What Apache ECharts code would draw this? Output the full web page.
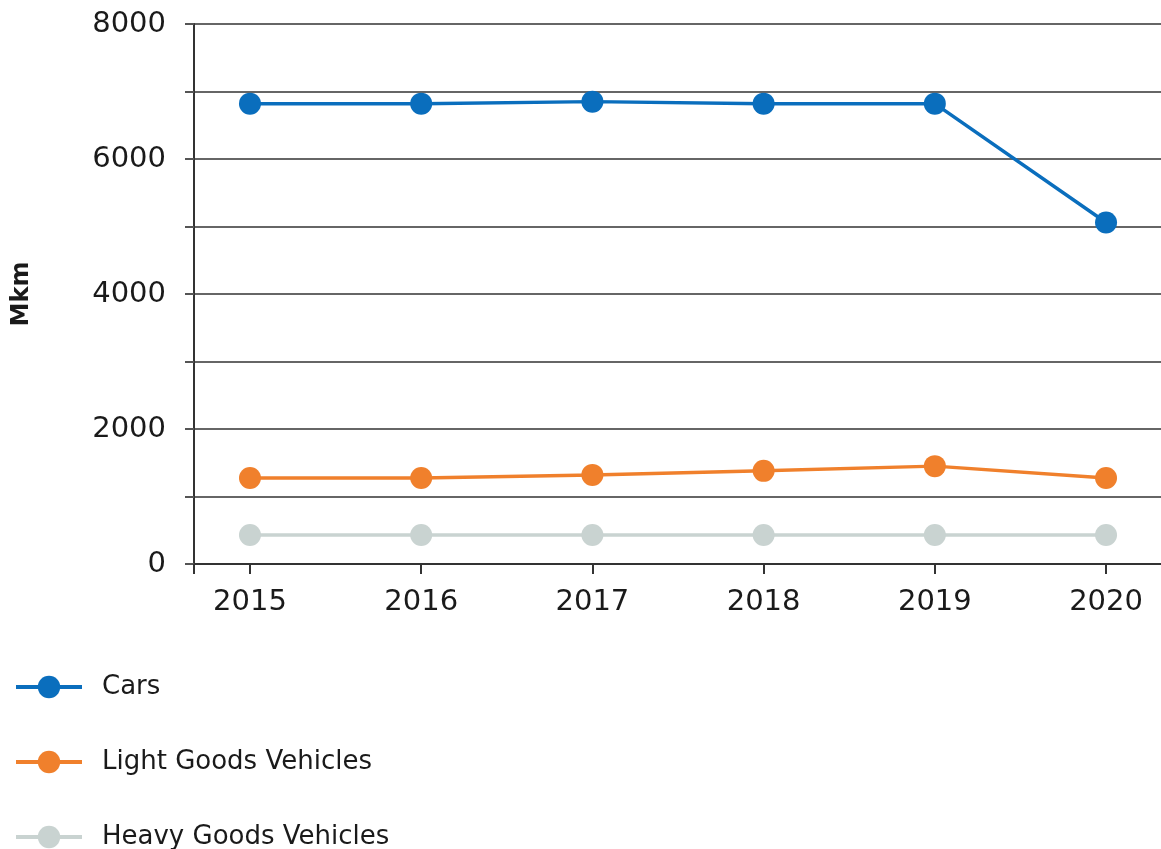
<!DOCTYPE html>
<html>
<head>
<meta charset="utf-8">
<script src="https://cdn.jsdelivr.net/npm/echarts@6/dist/echarts.min.js"></script>
<style>
html,body{margin:0;padding:0;background:#fff;}
#main{width:1161px;height:849px;}
</style>
</head>
<body>
<div id="main"></div>
<script>
const years = [2015, 2016, 2017, 2018, 2019, 2020];
const cars = [6820, 6820, 6850, 6820, 6820, 5060];
const lightGoods = [1275, 1275, 1320, 1380, 1450, 1275];
const heavyGoods = [430, 430, 430, 430, 430, 430];
const seriesNames = ['Cars', 'Light Goods Vehicles', 'Heavy Goods Vehicles'];
const yTickLabels = ['0', '2000', '4000', '6000', '8000'];

const colors = ['#0a6ebd', '#f0802c', '#c9d3d1'];
const font = 'DejaVu Sans';
const xMin = 2014.673, xMax = 2020.321;

function pairs(vals) { return years.map((y, i) => [y, vals[i]]); }

const chart = echarts.init(document.getElementById('main'));
chart.setOption({
  animation: false,
  textStyle: { fontFamily: font },
  grid: { left: 194, right: 0, top: 24, bottom: 285, containLabel: false },
  legend: {
    orient: 'vertical', left: 14, top: 674, height: 300, padding: 0,
    itemWidth: 66, itemHeight: 28, itemGap: 49,
    lineStyle: { width: 4 },
    textStyle: { fontSize: 26, color: '#1a1a1a', fontFamily: font, padding: [0, 0, 0, 15] },
    data: seriesNames
  },
  xAxis: {
    type: 'value', min: xMin, max: xMax,
    splitLine: { show: false },
    axisLine: { show: true, lineStyle: { color: '#333', width: 2 } },
    axisTick: { show: true, length: 10, customValues: [xMin].concat(years), lineStyle: { color: '#333', width: 2 } },
    axisLabel: { customValues: years, margin: 24, fontSize: 29, color: '#1a1a1a', formatter: v => String(v) }
  },
  yAxis: {
    type: 'value', min: 0, max: 8000, interval: 1000,
    name: 'Mkm', nameLocation: 'middle', nameRotate: 90, nameGap: 160,
    nameTextStyle: { fontSize: 24, color: '#1a1a1a', fontWeight: 'bold', fontFamily: font },
    axisLine: { show: true, lineStyle: { color: '#333', width: 2 } },
    axisTick: { show: true, length: 9, lineStyle: { color: '#555', width: 2 } },
    splitLine: { show: true, lineStyle: { color: '#666', width: 2 } },
    axisLabel: {
      margin: 28, fontSize: 29, color: '#1a1a1a',
      formatter: v => (yTickLabels.indexOf(String(v)) >= 0 ? String(v) : '')
    }
  },
  series: [
    { name: seriesNames[0], type: 'line', data: pairs(cars), symbol: 'circle', symbolSize: 22,
      itemStyle: { color: colors[0] }, lineStyle: { color: colors[0], width: 3.5 } },
    { name: seriesNames[1], type: 'line', data: pairs(lightGoods), symbol: 'circle', symbolSize: 22,
      itemStyle: { color: colors[1] }, lineStyle: { color: colors[1], width: 3.5 } },
    { name: seriesNames[2], type: 'line', data: pairs(heavyGoods), symbol: 'circle', symbolSize: 22,
      itemStyle: { color: colors[2] }, lineStyle: { color: colors[2], width: 3.5 } }
  ]
});
</script>
</body>
</html>
